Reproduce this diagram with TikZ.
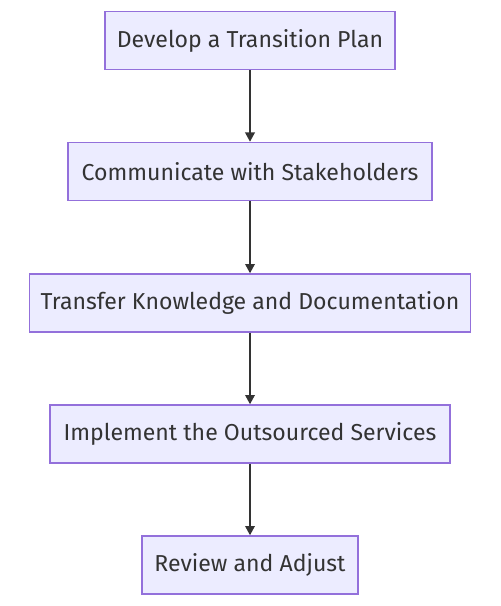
\documentclass[tikz,border=0pt]{standalone}
\usepackage{fontspec}
\setmainfont{Fira Sans}
\usetikzlibrary{arrows.meta}
\definecolor{boxfill}{HTML}{ECECFF}
\definecolor{boxdraw}{HTML}{9370DB}
\definecolor{ink}{HTML}{333333}
\tikzset{
  stepbox/.style={draw=boxdraw, fill=boxfill, line width=1pt, minimum height=58*0.75pt, inner sep=0pt, text=ink, font=\fontsize{17.3pt}{21pt}\selectfont},
  flow/.style={draw=ink, line width=1.7pt, -{Triangle[length=7pt,width=7pt]}}
}
\begin{document}
\begin{tikzpicture}[x=0.75pt,y=-0.75pt]
\useasboundingbox (0,0) rectangle (500,606);
\node[stepbox, minimum width=290*0.75pt] (a) at (250,40.5) {Develop a Transition Plan};
\node[stepbox, minimum width=364*0.75pt] (b) at (250,171.5) {Communicate with Stakeholders};
\node[stepbox, minimum width=441*0.75pt] (c) at (250,303) {Transfer Knowledge and Documentation};
\node[stepbox, minimum width=400*0.75pt] (d) at (250,434) {Implement the Outsourced Services};
\node[stepbox, minimum width=216*0.75pt] (e) at (250,565) {Review and Adjust};
\draw[flow] (a) -- (b);
\draw[flow] (b) -- (c);
\draw[flow] (c) -- (d);
\draw[flow] (d) -- (e);
\end{tikzpicture}
\end{document}
